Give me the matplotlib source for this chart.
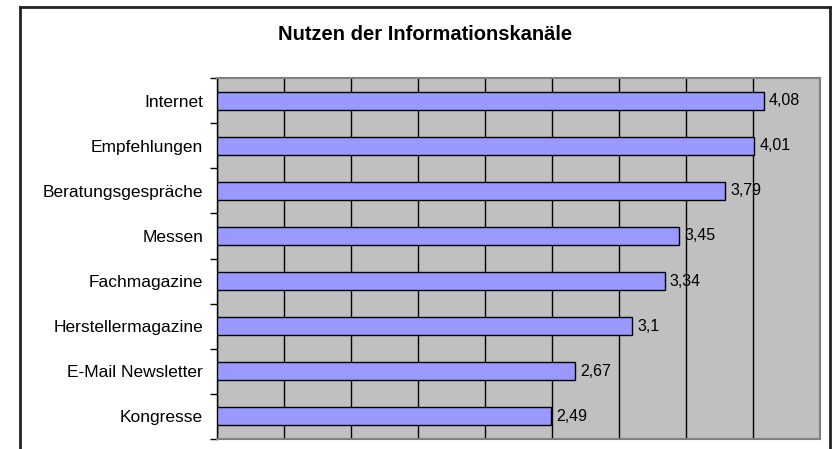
import matplotlib
matplotlib.use("Agg")
import matplotlib.pyplot as plt
from matplotlib.lines import Line2D

plt.rcParams['font.family'] = ['Liberation Sans', 'DejaVu Sans']

kanaele = ["Internet", "Empfehlungen", "Beratungsgespräche", "Messen",
           "Fachmagazine", "Herstellermagazine", "E-Mail Newsletter", "Kongresse"]
nutzen = [4.08, 4.01, 3.79, 3.45, 3.34, 3.1, 2.67, 2.49]
beschriftung = ["4,08", "4,01", "3,79", "3,45", "3,34", "3,1", "2,67", "2,49"]

fig = plt.figure(figsize=(8.32, 4.49), dpi=100)
ax = fig.add_axes([217/832, 1 - 439/449, (820 - 217)/832, (439 - 78)/449])
ax.set_facecolor('#C0C0C0')

y = list(range(len(kanaele)))[::-1]
ax.barh(y, nutzen, height=0.4, color='#9999FF', edgecolor='black', linewidth=1, zorder=3)
for yi, v, t in zip(y, nutzen, beschriftung):
    ax.text(v + 0.04, yi, t, va='center', ha='left', fontsize=11.5, zorder=4)

ax.set_xlim(0, 4.5)
ax.set_ylim(-0.5, len(kanaele) - 0.5)
ax.set_xticks([0.5 * i for i in range(10)])
ax.xaxis.grid(True, color='black', linewidth=1, zorder=1)
ax.set_axisbelow(True)
ax.tick_params(axis='x', bottom=False, labelbottom=False)

ax.set_yticks(y)
ax.set_yticklabels(kanaele, fontsize=12.5)
ax.set_yticks([i - 0.5 for i in range(len(kanaele) + 1)], minor=True)
ax.tick_params(axis='y', which='major', length=0, pad=10)
ax.tick_params(axis='y', which='minor', length=5, width=1, direction='out')

for s in ['top', 'right', 'bottom']:
    ax.spines[s].set_color('#808080')
    ax.spines[s].set_linewidth(1.5)
ax.spines['left'].set_color('black')
ax.spines['left'].set_linewidth(1)

fig.text(425/832, 1 - 34/449, "Nutzen der Informationskanäle", ha='center', va='center',
         fontsize=14.5, fontweight='bold')

# Rahmen um das Diagramm
for xs, ys in [([20/832, 20/832], [0, 1 - 7/449]),
               ([20/832, 830/832], [1 - 7/449, 1 - 7/449]),
               ([830/832, 830/832], [1 - 7/449, 0])]:
    fig.add_artist(Line2D(xs, ys, color='#222222', linewidth=2, transform=fig.transFigure))

fig.savefig("out.png", dpi=100)
